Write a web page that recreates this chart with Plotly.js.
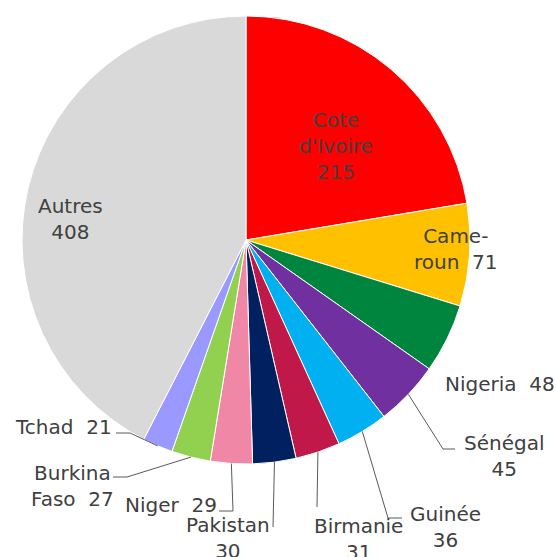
<!DOCTYPE html>
<html>
<head>
<meta charset="utf-8">
<script src="https://cdn.plot.ly/plotly-3.0.1.min.js"></script>
<style>html,body{margin:0;padding:0;background:#fff;}#chart{width:556px;height:557px;}</style>
</head>
<body>
<div id="chart"></div>
<script>
// ---- data ----
const labels = ["Cote d'Ivoire", "Cameroun", "Nigeria", "Sénégal", "Guinée", "Birmanie", "Pakistan", "Niger", "Burkina Faso", "Tchad", "Autres"];
const values = [215, 71, 48, 45, 36, 31, 30, 29, 27, 21, 408];
const labelText = ["Cote<br>d'Ivoire", "Came-<br>roun", "Nigeria", "Sénégal", "Guinée", "Birmanie", "Pakistan", "Niger", "Burkina<br>Faso", "Tchad", "Autres"];
const valueSep = ["<br>", "\u00a0\u00a0", "\u00a0\u00a0", "<br>", "<br>", "<br>", "<br>", "\u00a0\u00a0", "\u00a0\u00a0", "\u00a0\u00a0", "<br>"];

// ---- styles / positions ----
const colors = ["#FF0000", "#FFC000", "#00853F", "#7030A0", "#00B0F0", "#C1184A", "#002060", "#F087A6", "#92D050", "#9999FF", "#D9D9D9"];
const W = 556, H = 557;
const cx = 246, cy = 240, R = 224;
const labelPos = [[336,146],[456,249],[500,384],[504,456],[445,527],[358,539],[228,538],[171,505],[72,486],[63,427],[70,219]];
const leaders = [null, null, null,
  [[455,449],[443,449]],
  [[402,518],[388,518]],
  [[317,507]],
  [[273,527]],
  [[219,511],[233,511]],
  [[113,477],[127,477]],
  [[116,433],[130,433]],
  null];

const px = x => x / W;
const py = y => 1 - y / H;

const total = values.reduce((a, b) => a + b, 0);
const annotations = [];
const shapes = [];
let cum = 0;
values.forEach((v, i) => {
  const mid = (cum + v / 2) / total * 2 * Math.PI;
  cum += v;
  annotations.push({
    x: px(labelPos[i][0]), y: py(labelPos[i][1]), xref: 'paper', yref: 'paper',
    xanchor: 'center', yanchor: 'middle', showarrow: false, align: 'center',
    text: labelText[i] + valueSep[i] + values[i],
    font: {family: 'DejaVu Sans, sans-serif', size: 20, color: '#404040'}
  });
  if (leaders[i]) {
    const ax = cx + R * Math.sin(mid), ay = cy - R * Math.cos(mid);
    const pts = leaders[i].concat([[ax, ay]]);
    const path = pts.map((p, k) => (k ? 'L' : 'M') + px(p[0]) + ',' + py(p[1])).join(' ');
    shapes.push({type: 'path', xref: 'paper', yref: 'paper', path: path,
      line: {color: '#595959', width: 1}});
  }
});

const trace = {
  type: 'pie',
  labels: labels,
  values: values,
  sort: false,
  direction: 'clockwise',
  rotation: 0,
  textinfo: 'none',
  hoverinfo: 'label+value',
  marker: {colors: colors, line: {color: '#FFFFFF', width: 1}},
  domain: {x: [px(cx - R), px(cx + R)], y: [py(cy + R), py(cy - R)]},
  showlegend: false
};

const layout = {
  width: W, height: H,
  margin: {l: 0, r: 0, t: 0, b: 0},
  paper_bgcolor: '#FFFFFF',
  showlegend: false,
  annotations: annotations,
  shapes: shapes
};

Plotly.newPlot('chart', [trace], layout, {displayModeBar: false, staticPlot: true});
</script>
</body>
</html>
